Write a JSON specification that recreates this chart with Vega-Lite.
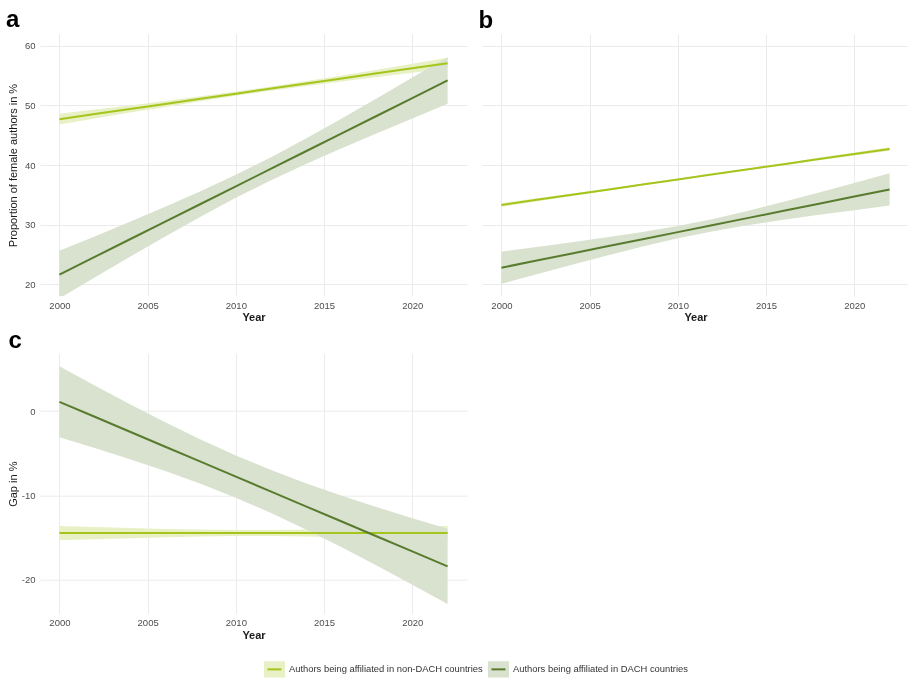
{
  "$schema": "https://vega.github.io/schema/vega-lite/v6.json",
  "padding": {"left": 6, "top": 7, "right": 0, "bottom": 0},
  "background": "white",
  "datasets": {
    "rows": [
      {"panel": "a", "group": "Authors being affiliated in non-DACH countries", "year": 2000, "fit": 47.7, "lo": 46.8, "hi": 48.6},
      {"panel": "a", "group": "Authors being affiliated in non-DACH countries", "year": 2002, "fit": 48.55, "lo": 47.8, "hi": 49.3},
      {"panel": "a", "group": "Authors being affiliated in non-DACH countries", "year": 2004, "fit": 49.41, "lo": 48.81, "hi": 50.01},
      {"panel": "a", "group": "Authors being affiliated in non-DACH countries", "year": 2006, "fit": 50.26, "lo": 49.76, "hi": 50.76},
      {"panel": "a", "group": "Authors being affiliated in non-DACH countries", "year": 2008, "fit": 51.12, "lo": 50.71, "hi": 51.53},
      {"panel": "a", "group": "Authors being affiliated in non-DACH countries", "year": 2010, "fit": 51.97, "lo": 51.61, "hi": 52.33},
      {"panel": "a", "group": "Authors being affiliated in non-DACH countries", "year": 2012, "fit": 52.83, "lo": 52.47, "hi": 53.19},
      {"panel": "a", "group": "Authors being affiliated in non-DACH countries", "year": 2014, "fit": 53.68, "lo": 53.27, "hi": 54.09},
      {"panel": "a", "group": "Authors being affiliated in non-DACH countries", "year": 2016, "fit": 54.54, "lo": 54.04, "hi": 55.04},
      {"panel": "a", "group": "Authors being affiliated in non-DACH countries", "year": 2018, "fit": 55.39, "lo": 54.79, "hi": 55.99},
      {"panel": "a", "group": "Authors being affiliated in non-DACH countries", "year": 2020, "fit": 56.25, "lo": 55.5, "hi": 57.0},
      {"panel": "a", "group": "Authors being affiliated in non-DACH countries", "year": 2022, "fit": 57.1, "lo": 56.2, "hi": 58.0},
      {"panel": "a", "group": "Authors being affiliated in DACH countries", "year": 2000, "fit": 21.6, "lo": 17.6, "hi": 25.6},
      {"panel": "a", "group": "Authors being affiliated in DACH countries", "year": 2002, "fit": 24.56, "lo": 21.11, "hi": 28.01},
      {"panel": "a", "group": "Authors being affiliated in DACH countries", "year": 2004, "fit": 27.53, "lo": 24.59, "hi": 30.47},
      {"panel": "a", "group": "Authors being affiliated in DACH countries", "year": 2006, "fit": 30.49, "lo": 28.01, "hi": 32.97},
      {"panel": "a", "group": "Authors being affiliated in DACH countries", "year": 2008, "fit": 33.45, "lo": 31.32, "hi": 35.58},
      {"panel": "a", "group": "Authors being affiliated in DACH countries", "year": 2010, "fit": 36.42, "lo": 34.49, "hi": 38.35},
      {"panel": "a", "group": "Authors being affiliated in DACH countries", "year": 2012, "fit": 39.38, "lo": 37.45, "hi": 41.31},
      {"panel": "a", "group": "Authors being affiliated in DACH countries", "year": 2014, "fit": 42.35, "lo": 40.22, "hi": 44.48},
      {"panel": "a", "group": "Authors being affiliated in DACH countries", "year": 2016, "fit": 45.31, "lo": 42.83, "hi": 47.79},
      {"panel": "a", "group": "Authors being affiliated in DACH countries", "year": 2018, "fit": 48.27, "lo": 45.33, "hi": 51.21},
      {"panel": "a", "group": "Authors being affiliated in DACH countries", "year": 2020, "fit": 51.24, "lo": 47.79, "hi": 54.69},
      {"panel": "a", "group": "Authors being affiliated in DACH countries", "year": 2022, "fit": 54.2, "lo": 50.3, "hi": 58.1},
      {"panel": "b", "group": "Authors being affiliated in non-DACH countries", "year": 2000, "fit": 33.3, "lo": 33.0, "hi": 33.6},
      {"panel": "b", "group": "Authors being affiliated in non-DACH countries", "year": 2002, "fit": 34.15, "lo": 33.89, "hi": 34.41},
      {"panel": "b", "group": "Authors being affiliated in non-DACH countries", "year": 2004, "fit": 35.01, "lo": 34.8, "hi": 35.22},
      {"panel": "b", "group": "Authors being affiliated in non-DACH countries", "year": 2006, "fit": 35.86, "lo": 35.69, "hi": 36.03},
      {"panel": "b", "group": "Authors being affiliated in non-DACH countries", "year": 2008, "fit": 36.72, "lo": 36.58, "hi": 36.86},
      {"panel": "b", "group": "Authors being affiliated in non-DACH countries", "year": 2010, "fit": 37.57, "lo": 37.45, "hi": 37.69},
      {"panel": "b", "group": "Authors being affiliated in non-DACH countries", "year": 2012, "fit": 38.43, "lo": 38.31, "hi": 38.55},
      {"panel": "b", "group": "Authors being affiliated in non-DACH countries", "year": 2014, "fit": 39.28, "lo": 39.14, "hi": 39.42},
      {"panel": "b", "group": "Authors being affiliated in non-DACH countries", "year": 2016, "fit": 40.14, "lo": 39.97, "hi": 40.31},
      {"panel": "b", "group": "Authors being affiliated in non-DACH countries", "year": 2018, "fit": 40.99, "lo": 40.78, "hi": 41.2},
      {"panel": "b", "group": "Authors being affiliated in non-DACH countries", "year": 2020, "fit": 41.85, "lo": 41.59, "hi": 42.11},
      {"panel": "b", "group": "Authors being affiliated in non-DACH countries", "year": 2022, "fit": 42.7, "lo": 42.4, "hi": 43.0},
      {"panel": "b", "group": "Authors being affiliated in DACH countries", "year": 2000, "fit": 22.75, "lo": 20.05, "hi": 25.45},
      {"panel": "b", "group": "Authors being affiliated in DACH countries", "year": 2002, "fit": 23.95, "lo": 21.67, "hi": 26.23},
      {"panel": "b", "group": "Authors being affiliated in DACH countries", "year": 2004, "fit": 25.14, "lo": 23.26, "hi": 27.02},
      {"panel": "b", "group": "Authors being affiliated in DACH countries", "year": 2006, "fit": 26.34, "lo": 24.82, "hi": 27.86},
      {"panel": "b", "group": "Authors being affiliated in DACH countries", "year": 2008, "fit": 27.53, "lo": 26.32, "hi": 28.74},
      {"panel": "b", "group": "Authors being affiliated in DACH countries", "year": 2010, "fit": 28.73, "lo": 27.7, "hi": 29.76},
      {"panel": "b", "group": "Authors being affiliated in DACH countries", "year": 2012, "fit": 29.92, "lo": 28.89, "hi": 30.95},
      {"panel": "b", "group": "Authors being affiliated in DACH countries", "year": 2014, "fit": 31.12, "lo": 29.91, "hi": 32.33},
      {"panel": "b", "group": "Authors being affiliated in DACH countries", "year": 2016, "fit": 32.31, "lo": 30.79, "hi": 33.83},
      {"panel": "b", "group": "Authors being affiliated in DACH countries", "year": 2018, "fit": 33.51, "lo": 31.63, "hi": 35.39},
      {"panel": "b", "group": "Authors being affiliated in DACH countries", "year": 2020, "fit": 34.7, "lo": 32.42, "hi": 36.98},
      {"panel": "b", "group": "Authors being affiliated in DACH countries", "year": 2022, "fit": 35.9, "lo": 33.2, "hi": 38.6},
      {"panel": "c", "group": "Authors being affiliated in non-DACH countries", "year": 2000, "fit": -14.45, "lo": -15.3, "hi": -13.6},
      {"panel": "c", "group": "Authors being affiliated in non-DACH countries", "year": 2002, "fit": -14.45, "lo": -15.17, "hi": -13.73},
      {"panel": "c", "group": "Authors being affiliated in non-DACH countries", "year": 2004, "fit": -14.45, "lo": -15.05, "hi": -13.85},
      {"panel": "c", "group": "Authors being affiliated in non-DACH countries", "year": 2006, "fit": -14.45, "lo": -14.94, "hi": -13.96},
      {"panel": "c", "group": "Authors being affiliated in non-DACH countries", "year": 2008, "fit": -14.45, "lo": -14.86, "hi": -14.04},
      {"panel": "c", "group": "Authors being affiliated in non-DACH countries", "year": 2010, "fit": -14.45, "lo": -14.81, "hi": -14.09},
      {"panel": "c", "group": "Authors being affiliated in non-DACH countries", "year": 2012, "fit": -14.45, "lo": -14.81, "hi": -14.09},
      {"panel": "c", "group": "Authors being affiliated in non-DACH countries", "year": 2014, "fit": -14.45, "lo": -14.86, "hi": -14.04},
      {"panel": "c", "group": "Authors being affiliated in non-DACH countries", "year": 2016, "fit": -14.45, "lo": -14.94, "hi": -13.96},
      {"panel": "c", "group": "Authors being affiliated in non-DACH countries", "year": 2018, "fit": -14.45, "lo": -15.05, "hi": -13.85},
      {"panel": "c", "group": "Authors being affiliated in non-DACH countries", "year": 2020, "fit": -14.45, "lo": -15.17, "hi": -13.73},
      {"panel": "c", "group": "Authors being affiliated in non-DACH countries", "year": 2022, "fit": -14.45, "lo": -15.3, "hi": -13.6},
      {"panel": "c", "group": "Authors being affiliated in DACH countries", "year": 2000, "fit": 1.1, "lo": -3.1, "hi": 5.3},
      {"panel": "c", "group": "Authors being affiliated in DACH countries", "year": 2002, "fit": -0.67, "lo": -4.37, "hi": 3.03},
      {"panel": "c", "group": "Authors being affiliated in DACH countries", "year": 2004, "fit": -2.45, "lo": -5.71, "hi": 0.81},
      {"panel": "c", "group": "Authors being affiliated in DACH countries", "year": 2006, "fit": -4.22, "lo": -7.11, "hi": -1.33},
      {"panel": "c", "group": "Authors being affiliated in DACH countries", "year": 2008, "fit": -5.99, "lo": -8.61, "hi": -3.37},
      {"panel": "c", "group": "Authors being affiliated in DACH countries", "year": 2010, "fit": -7.76, "lo": -10.26, "hi": -5.26},
      {"panel": "c", "group": "Authors being affiliated in DACH countries", "year": 2012, "fit": -9.53, "lo": -12.08, "hi": -6.98},
      {"panel": "c", "group": "Authors being affiliated in DACH countries", "year": 2014, "fit": -11.31, "lo": -14.05, "hi": -8.57},
      {"panel": "c", "group": "Authors being affiliated in DACH countries", "year": 2016, "fit": -13.08, "lo": -16.14, "hi": -10.02},
      {"panel": "c", "group": "Authors being affiliated in DACH countries", "year": 2018, "fit": -14.85, "lo": -18.32, "hi": -11.38},
      {"panel": "c", "group": "Authors being affiliated in DACH countries", "year": 2020, "fit": -16.62, "lo": -20.56, "hi": -12.68},
      {"panel": "c", "group": "Authors being affiliated in DACH countries", "year": 2022, "fit": -18.4, "lo": -22.86, "hi": -13.94}
    ]
  },
  "data": {"name": "rows"},
  "columns": 2,
  "bounds": "flush",
  "spacing": {"row": 57.7, "column": 15},
  "concat": [
    {
      "width": 427, "height": 262,
      "title": {"text": "a", "anchor": "start", "frame": "group", "dx": -34, "offset": -16.9, "baseline": "alphabetic", "fontSize": 24, "fontWeight": "bold", "color": "#000000"},
      "transform": [{"filter": "datum.panel === 'a'"}],
      "resolve": {"axis": {"x": "independent", "y": "independent"}},
      "layer": [
        {
          "mark": {"type": "area", "clip": true, "blend": "multiply"},
          "encoding": {
            "x": {"field": "year", "type": "quantitative", "scale": {"domain": [1998.9, 2023.1], "nice": false, "zero": false},
                  "axis": {"values": [2000, 2005, 2010, 2015, 2020], "format": "d", "title": "Year"}},
            "y": {"field": "lo", "type": "quantitative", "scale": {"domain": [18, 62], "nice": false, "zero": false},
                  "axis": {"values": [20, 30, 40, 50, 60], "title": "Proportion of female authors in %", "titleX": -21.5}},
            "y2": {"field": "hi"},
            "fill": {"field": "group", "type": "nominal",
                     "scale": {"domain": ["Authors being affiliated in non-DACH countries", "Authors being affiliated in DACH countries"], "range": ["#e8f0c6", "#d9e1cf"]},
                     "legend": {"title": null, "orient": "none", "legendX": 223, "legendY": 623.7, "direction": "horizontal", "symbolType": "M-0.67,0H0.67H1V-0.78H-1V0.78H1V0Z", "symbolSize": 441, "symbolStrokeWidth": 2, "symbolDash": [14, 1000], "symbolOpacity": 1, "labelFontSize": 9.4, "labelColor": "#333333", "labelLimit": 400, "labelOffset": 3, "columnPadding": 1}}
          }
        },
        {
          "mark": {"type": "line", "clip": true, "strokeWidth": 2},
          "encoding": {
            "x": {"field": "year", "type": "quantitative", "scale": {"domain": [1998.9, 2023.1], "nice": false, "zero": false},
                  "axis": {"values": [2002.5, 2007.5, 2012.5, 2017.5, 2022.5], "orient": "bottom", "labels": false, "title": null, "gridColor": "#f3f3f3"}},
            "y": {"field": "fit", "type": "quantitative", "scale": {"domain": [18, 62], "nice": false, "zero": false},
                  "axis": {"values": [25, 35, 45, 55], "orient": "left", "labels": false, "title": null, "gridColor": "#f3f3f3"}},
            "stroke": {"field": "group", "type": "nominal",
                       "scale": {"domain": ["Authors being affiliated in non-DACH countries", "Authors being affiliated in DACH countries"], "range": ["#a5c51c", "#587b2e"]},
                       "legend": {"title": null, "orient": "none", "legendX": 223, "legendY": 623.7, "direction": "horizontal", "symbolType": "M-0.67,0H0.67H1V-0.78H-1V0.78H1V0Z", "symbolSize": 441, "symbolStrokeWidth": 2, "symbolDash": [14, 1000], "symbolOpacity": 1, "labelFontSize": 9.4, "labelColor": "#333333", "labelLimit": 400, "labelOffset": 3, "columnPadding": 1}}
          }
        }
      ]
    },
    {
      "width": 427, "height": 262,
      "title": {"text": "b", "anchor": "start", "frame": "group", "dx": -3.5, "offset": -17.5, "baseline": "alphabetic", "fontSize": 24, "fontWeight": "bold", "color": "#000000"},
      "transform": [{"filter": "datum.panel === 'b'"}],
      "resolve": {"axis": {"x": "independent", "y": "independent"}},
      "layer": [
        {
          "mark": {"type": "area", "clip": true, "blend": "multiply"},
          "encoding": {
            "x": {"field": "year", "type": "quantitative", "scale": {"domain": [1998.9, 2023.1], "nice": false, "zero": false},
                  "axis": {"values": [2000, 2005, 2010, 2015, 2020], "format": "d", "title": "Year"}},
            "y": {"field": "lo", "type": "quantitative", "scale": {"domain": [18, 62], "nice": false, "zero": false},
                  "axis": {"values": [20, 30, 40, 50, 60], "labels": false, "title": null}},
            "y2": {"field": "hi"},
            "fill": {"field": "group", "type": "nominal",
                     "scale": {"domain": ["Authors being affiliated in non-DACH countries", "Authors being affiliated in DACH countries"], "range": ["#e8f0c6", "#d9e1cf"]},
                     "legend": {"title": null, "orient": "none", "legendX": 223, "legendY": 623.7, "direction": "horizontal", "symbolType": "M-0.67,0H0.67H1V-0.78H-1V0.78H1V0Z", "symbolSize": 441, "symbolStrokeWidth": 2, "symbolDash": [14, 1000], "symbolOpacity": 1, "labelFontSize": 9.4, "labelColor": "#333333", "labelLimit": 400, "labelOffset": 3, "columnPadding": 1}}
          }
        },
        {
          "mark": {"type": "line", "clip": true, "strokeWidth": 2},
          "encoding": {
            "x": {"field": "year", "type": "quantitative", "scale": {"domain": [1998.9, 2023.1], "nice": false, "zero": false},
                  "axis": {"values": [2002.5, 2007.5, 2012.5, 2017.5, 2022.5], "orient": "bottom", "labels": false, "title": null, "gridColor": "#f3f3f3"}},
            "y": {"field": "fit", "type": "quantitative", "scale": {"domain": [18, 62], "nice": false, "zero": false},
                  "axis": {"values": [25, 35, 45, 55], "orient": "left", "labels": false, "title": null, "gridColor": "#f3f3f3"}},
            "stroke": {"field": "group", "type": "nominal",
                       "scale": {"domain": ["Authors being affiliated in non-DACH countries", "Authors being affiliated in DACH countries"], "range": ["#a5c51c", "#587b2e"]},
                       "legend": {"title": null, "orient": "none", "legendX": 223, "legendY": 623.7, "direction": "horizontal", "symbolType": "M-0.67,0H0.67H1V-0.78H-1V0.78H1V0Z", "symbolSize": 441, "symbolStrokeWidth": 2, "symbolDash": [14, 1000], "symbolOpacity": 1, "labelFontSize": 9.4, "labelColor": "#333333", "labelLimit": 400, "labelOffset": 3, "columnPadding": 1}}
          }
        }
      ]
    },
    {
      "width": 427, "height": 260,
      "title": {"text": "c", "anchor": "start", "frame": "group", "dx": -31.5, "offset": -17.9, "baseline": "alphabetic", "fontSize": 24, "fontWeight": "bold", "color": "#000000"},
      "transform": [{"filter": "datum.panel === 'c'"}],
      "resolve": {"axis": {"x": "independent", "y": "independent"}},
      "layer": [
        {
          "mark": {"type": "area", "clip": true, "blend": "multiply"},
          "encoding": {
            "x": {"field": "year", "type": "quantitative", "scale": {"domain": [1998.9, 2023.1], "nice": false, "zero": false},
                  "axis": {"values": [2000, 2005, 2010, 2015, 2020], "format": "d", "title": "Year"}},
            "y": {"field": "lo", "type": "quantitative", "scale": {"domain": [-24.0, 6.8], "nice": false, "zero": false},
                  "axis": {"values": [-20, -10, 0], "title": "Gap in %", "titleX": -21.5, "labelExpr": "replace(datum.label, '−', '-')"}},
            "y2": {"field": "hi"},
            "fill": {"field": "group", "type": "nominal",
                     "scale": {"domain": ["Authors being affiliated in non-DACH countries", "Authors being affiliated in DACH countries"], "range": ["#e8f0c6", "#d9e1cf"]},
                     "legend": {"title": null, "orient": "none", "legendX": 223, "legendY": 623.7, "direction": "horizontal", "symbolType": "M-0.67,0H0.67H1V-0.78H-1V0.78H1V0Z", "symbolSize": 441, "symbolStrokeWidth": 2, "symbolDash": [14, 1000], "symbolOpacity": 1, "labelFontSize": 9.4, "labelColor": "#333333", "labelLimit": 400, "labelOffset": 3, "columnPadding": 1}}
          }
        },
        {
          "mark": {"type": "line", "clip": true, "strokeWidth": 2},
          "encoding": {
            "x": {"field": "year", "type": "quantitative", "scale": {"domain": [1998.9, 2023.1], "nice": false, "zero": false},
                  "axis": {"values": [2002.5, 2007.5, 2012.5, 2017.5, 2022.5], "orient": "bottom", "labels": false, "title": null, "gridColor": "#f3f3f3"}},
            "y": {"field": "fit", "type": "quantitative", "scale": {"domain": [-24.0, 6.8], "nice": false, "zero": false},
                  "axis": {"values": [-15, -5, 5], "orient": "left", "labels": false, "title": null, "gridColor": "#f3f3f3"}},
            "stroke": {"field": "group", "type": "nominal",
                       "scale": {"domain": ["Authors being affiliated in non-DACH countries", "Authors being affiliated in DACH countries"], "range": ["#a5c51c", "#587b2e"]},
                       "legend": {"title": null, "orient": "none", "legendX": 223, "legendY": 623.7, "direction": "horizontal", "symbolType": "M-0.67,0H0.67H1V-0.78H-1V0.78H1V0Z", "symbolSize": 441, "symbolStrokeWidth": 2, "symbolDash": [14, 1000], "symbolOpacity": 1, "labelFontSize": 9.4, "labelColor": "#333333", "labelLimit": 400, "labelOffset": 3, "columnPadding": 1}}
          }
        }
      ]
    }
  ],
  "config": {
    "font": "Liberation Sans",
    "view": {"stroke": null},
    "axis": {
      "grid": true, "gridColor": "#ebebeb", "gridWidth": 1,
      "ticks": false, "domain": false,
      "labelFontSize": 9.5, "labelColor": "#4d4d4d", "labelPadding": 5,
      "titleFontSize": 11, "titleColor": "#1a1a1a", "titleFontWeight": "normal"
    },
    "axisX": {"labelPadding": 4, "titlePadding": 2, "titleFontWeight": "bold"},
    "legend": {"labelFont": "Liberation Sans"}
  }
}
